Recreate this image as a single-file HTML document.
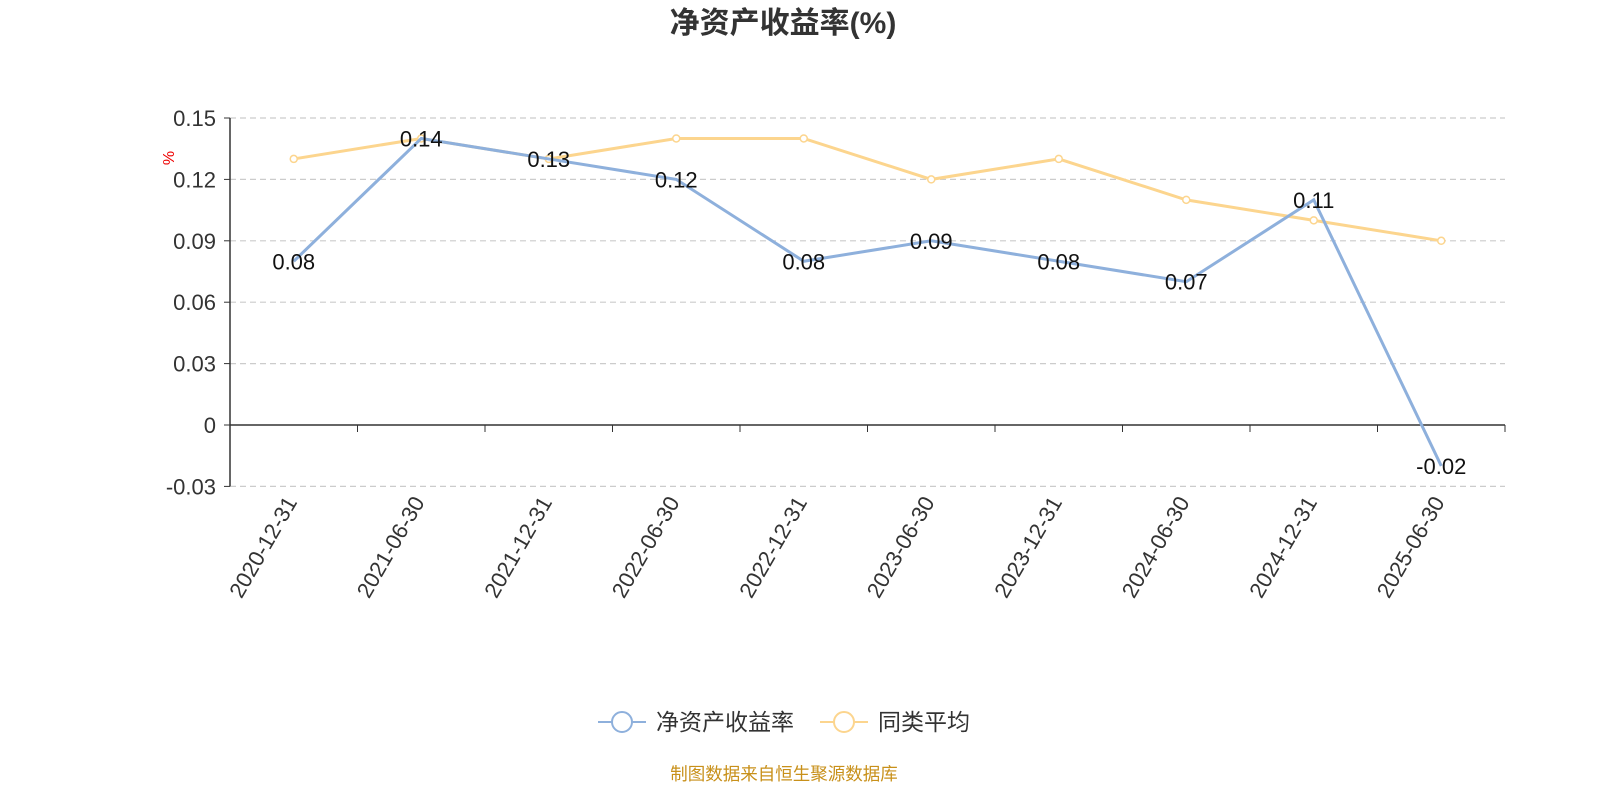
<!DOCTYPE html>
<html><head><meta charset="utf-8"><style>
body{margin:0;background:#fff;width:1600px;height:800px;overflow:hidden;font-family:"Liberation Sans","Noto Sans CJK SC",sans-serif}
</style></head><body>
<svg width="1600" height="800" xmlns="http://www.w3.org/2000/svg" id="chart" font-family="Liberation Sans, Noto Sans CJK SC, sans-serif">
<text x="783" y="33" text-anchor="middle" font-size="30" font-weight="bold" fill="#333">净资产收益率(%)</text>
<text transform="translate(174,158) rotate(-90)" text-anchor="middle" font-size="16" fill="#e00">%</text>
<g id="grid"></g><g id="axes"></g><g id="series"></g>
<g>
<g>
<line x1="598" y1="722" x2="646" y2="722" stroke="#8eb0dc" stroke-width="2"/>
<circle cx="622" cy="722" r="10" fill="#fff" stroke="#8eb0dc" stroke-width="2"/>
<text x="656" y="730" font-size="23" fill="#333">净资产收益率</text></g>
<g>
<line x1="820" y1="722" x2="868" y2="722" stroke="#fcd58e" stroke-width="2"/>
<circle cx="844" cy="722" r="10" fill="#fff" stroke="#fcd58e" stroke-width="2"/>
<text x="878" y="730" font-size="23" fill="#333">同类平均</text></g>
</g>
<text x="784" y="780" text-anchor="middle" font-size="17.5" fill="#c8901a">制图数据来自恒生聚源数据库</text>
</svg>
<script>
const categories=["2020-12-31","2021-06-30","2021-12-31","2022-06-30","2022-12-31","2023-06-30","2023-12-31","2024-06-30","2024-12-31","2025-06-30"];
const roeValues=[0.08,0.14,0.13,0.12,0.08,0.09,0.08,0.07,0.11,-0.02];
const avgValues=[0.13,0.14,0.13,0.14,0.14,0.12,0.13,0.11,0.10,0.09];
const yTicks=[-0.03,0,0.03,0.06,0.09,0.12,0.15];
const yTickLabels=["-0.03","0","0.03","0.06","0.09","0.12","0.15"];
const NS="http://www.w3.org/2000/svg";
const X0=230,X1=1505,Y0=425,YPX=307/0.15;
const bw=(X1-X0)/categories.length;
const xs=i=>X0+bw*(i+0.5);
const ys=v=>Y0-v*YPX;
function mk(tag,attrs,parent){const e=document.createElementNS(NS,tag);for(const k in attrs)e.setAttribute(k,attrs[k]);parent.appendChild(e);return e;}
const grid=document.getElementById('grid'),axes=document.getElementById('axes'),series=document.getElementById('series');
yTicks.forEach((t,i)=>{
 if(t!==0){const l=mk('line',{x1:X0,x2:X1,y1:ys(t),y2:ys(t),stroke:'#ccc','stroke-dasharray':'6,4','stroke-width':1.2},grid);
 
 }
 const tk=mk('line',{x1:X0-6,x2:X0,y1:ys(t),y2:ys(t),stroke:'#333'},axes);
 
 
 const tx=mk('text',{x:X0-14,y:ys(t)+8,'text-anchor':'end','font-size':22,fill:'#333'},axes);
 tx.textContent=yTickLabels[i];
 
 
});
const ya=mk('line',{x1:X0,x2:X0,y1:ys(0.15),y2:ys(-0.03),stroke:'#333','stroke-width':1.5},axes);


const xa=mk('line',{x1:X0,x2:X1,y1:Y0,y2:Y0,stroke:'#333','stroke-width':1.5},axes);


for(let i=0;i<=categories.length;i++){
 const t=mk('line',{x1:X0+bw*i,x2:X0+bw*i,y1:Y0,y2:Y0+7,stroke:'#333'},axes);
 
 
}
categories.forEach((c,i)=>{
 const x=xs(i)+4,y=502;
 const t=mk('text',{x:x,y:y,'text-anchor':'end','font-size':22,fill:'#333',transform:`rotate(-60 ${x} ${y})`},axes);
 t.textContent=c;
 
 
});
function drawLine(vals,color,name,dots){
 const p=mk('polyline',{points:vals.map((v,i)=>xs(i)+','+ys(v)).join(' '),fill:'none',stroke:color,'stroke-width':3},series);
 
 
 if(dots) vals.forEach((v,i)=>{
  const c=mk('circle',{cx:xs(i),cy:ys(v),r:3.5,fill:'#fff',stroke:color,'stroke-width':1.5},series);
  
  
 });
}
drawLine(avgValues,'#fcd58e','peer-average',true);
drawLine(roeValues,'#8eb0dc','roe',false);
roeValues.forEach((v,i)=>{
 const t=mk('text',{x:xs(i),y:ys(v)+8,'text-anchor':'middle','font-size':22,fill:'#111'},series);
 t.textContent=v.toFixed(2);
 
 
});
</script>
</body></html>
